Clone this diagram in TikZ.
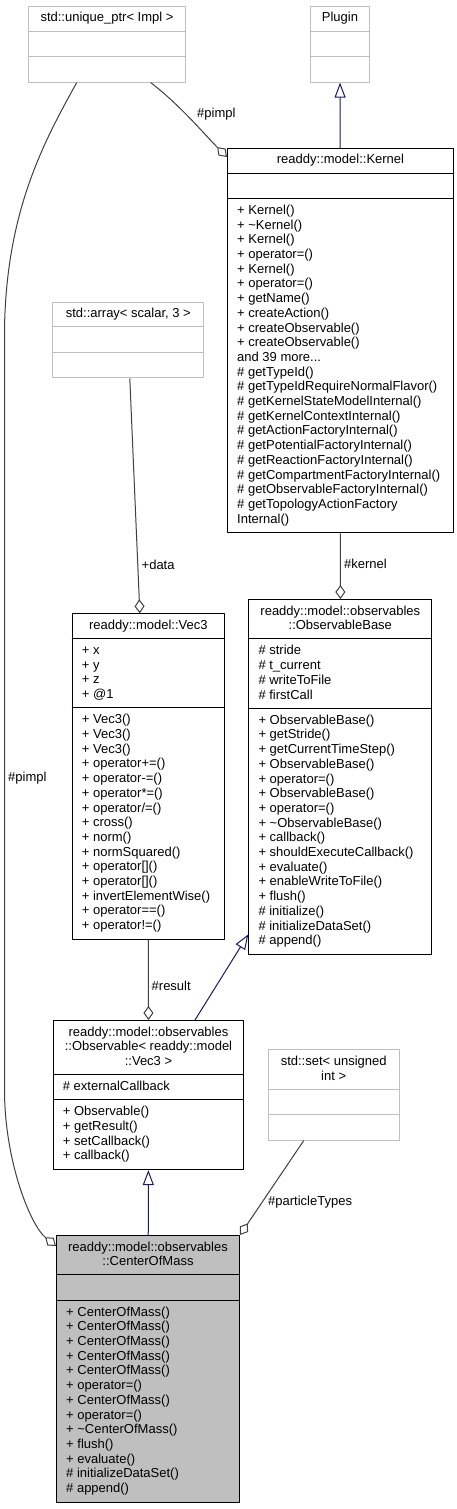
\documentclass[tikz,border=0pt]{standalone}
\usepackage{fontspec}
\setmainfont{Liberation Sans}
\usetikzlibrary{arrows.meta,calc}
\definecolor{boxgray}{RGB}{191,191,191}
\definecolor{edgegray}{RGB}{64,64,64}
\definecolor{inhblue}{RGB}{25,25,112}
\def\kernelmore{and 39 more...}

\begin{document}
\begin{tikzpicture}[x=1pt, y=-1pt, line join=round,
    font=\fontsize{13pt}{14.7pt}\selectfont,
    cls/.style={draw=black, line width=1pt, inner sep=0pt, anchor=north west},
    ext/.style={cls, draw=boxgray},
    mainbox/.style={cls, fill=boxgray},
    sep/.style={line width=1pt},
    ctitle/.style={anchor=base, inner sep=0pt},
    member/.style={anchor=base west, inner sep=0pt},
    lbl/.style={anchor=west, inner sep=0pt},
    assoc/.style={draw=edgegray, line width=1pt, -{Diamond[open,length=14pt,width=10pt]}},
    inherit/.style={draw=inhblue, line width=1pt, -{Triangle[open,length=15pt,width=11pt]}}]
  \path[fill=white] (0,0) rectangle (457,1509);
  \useasboundingbox (0,0) rectangle (457,1509);

  % classes that are not documented here
  \node[ext, minimum width=157pt, minimum height=75.6pt] (uniq) at (28,6) {};
  \node[ctitle] (uniq-t) at ($(uniq.north)+(0,16)$) {std::unique\_ptr< Impl >};
  \draw[sep, boxgray] ([yshift=-25.2pt]uniq.north west) -- ([yshift=-25.2pt]uniq.north east)
    ([yshift=-50.4pt]uniq.north west) -- ([yshift=-50.4pt]uniq.north east);

  \node[ext, minimum width=59pt, minimum height=75.6pt] (plugin) at (310,6) {};
  \node[ctitle] (plugin-t) at ($(plugin.north)+(0,16)$) {Plugin};
  \draw[sep, boxgray] ([yshift=-25.2pt]plugin.north west) -- ([yshift=-25.2pt]plugin.north east)
    ([yshift=-50.4pt]plugin.north west) -- ([yshift=-50.4pt]plugin.north east);

  \node[ext, minimum width=151pt, minimum height=75.6pt] (array) at (52.3,301.7) {};
  \node[ctitle] (array-t) at ($(array.north)+(0,16)$) {std::array< scalar, 3 >};
  \draw[sep, boxgray] ([yshift=-25.2pt]array.north west) -- ([yshift=-25.2pt]array.north east)
    ([yshift=-50.4pt]array.north west) -- ([yshift=-50.4pt]array.north east);

  \node[ext, minimum width=131pt, minimum height=90.3pt] (set) at (267.7,1049.3) {};
  \node[ctitle] (set-t1) at ($(set.north)+(0,16)$) {std::set< unsigned};
  \node[ctitle] (set-t2) at ($(set.north)+(0,30.7)$) {int >};
  \draw[sep, boxgray] ([yshift=-39.9pt]set.north west) -- ([yshift=-39.9pt]set.north east)
    ([yshift=-65.1pt]set.north west) -- ([yshift=-65.1pt]set.north east);

  % readdy::model::Kernel
  \node[cls, minimum width=226pt, minimum height=384.3pt] (kernel) at (227,148) {};
  \node[ctitle] (kernel-t) at ($(kernel.north)+(0,16)$) {readdy::model::Kernel};
  \draw[sep] ([yshift=-25.2pt]kernel.north west) -- ([yshift=-25.2pt]kernel.north east)
    ([yshift=-50.4pt]kernel.north west) -- ([yshift=-50.4pt]kernel.north east);
  \foreach \t [count=\i from 0] in {{+ Kernel()}, {+ \textasciitilde Kernel()}, {+ Kernel()},
      {+ operator=()}, {+ Kernel()}, {+ operator=()}, {+ getName()}, {+ createAction()},
      {+ createObservable()}, {+ createObservable()}, {\kernelmore}, {\# getTypeId()},
      {\# getTypeIdRequireNormalFlavor()}, {\# getKernelStateModelInternal()},
      {\# getKernelContextInternal()}, {\# getActionFactoryInternal()},
      {\# getPotentialFactoryInternal()}, {\# getReactionFactoryInternal()},
      {\# getCompartmentFactoryInternal()}, {\# getObservableFactoryInternal()},
      {\# getTopologyActionFactory}, {Internal()}}
    \node[member] (kernel-m\i) at ($(kernel.north west)+(10,66.4+14.7*\i)$) {\t};

  % readdy::model::Vec3
  \node[cls, minimum width=152.3pt, minimum height=325.5pt] (vec) at (71.7,613.3) {};
  \node[ctitle] (vec-t) at ($(vec.north)+(0,16)$) {readdy::model::Vec3};
  \draw[sep] ([yshift=-25.2pt]vec.north west) -- ([yshift=-25.2pt]vec.north east)
    ([yshift=-94.5pt]vec.north west) -- ([yshift=-94.5pt]vec.north east);
  \foreach \t [count=\i from 0] in {{+ x}, {+ y}, {+ z}, {+ @1}}
    \node[member] (vec-a\i) at ($(vec.north west)+(10,41.2+14.7*\i)$) {\t};
  \foreach \t [count=\i from 0] in {{+ Vec3()}, {+ Vec3()}, {+ Vec3()}, {+ operator+=()},
      {+ operator-=()}, {+ operator*=()}, {+ operator/=()}, {+ cross()}, {+ norm()},
      {+ normSquared()}, {+ operator[]()}, {+ operator[]()}, {+ invertElementWise()},
      {+ operator==()}, {+ operator!=()}}
    \node[member] (vec-m\i) at ($(vec.north west)+(10,110.5+14.7*\i)$) {\t};

  % readdy::model::observables::ObservableBase
  \node[cls, minimum width=183pt, minimum height=354.9pt] (obase) at (248.3,599) {};
  \node[ctitle] (obase-t1) at ($(obase.north)+(0,16)$) {readdy::model::observables};
  \node[ctitle] (obase-t2) at ($(obase.north)+(0,30.7)$) {::ObservableBase};
  \draw[sep] ([yshift=-39.9pt]obase.north west) -- ([yshift=-39.9pt]obase.north east)
    ([yshift=-109.2pt]obase.north west) -- ([yshift=-109.2pt]obase.north east);
  \foreach \t [count=\i from 0] in {{\# stride}, {\# t\_current}, {\# writeToFile}, {\# firstCall}}
    \node[member] (obase-a\i) at ($(obase.north west)+(10,55.9+14.7*\i)$) {\t};
  \foreach \t [count=\i from 0] in {{+ ObservableBase()}, {+ getStride()},
      {+ getCurrentTimeStep()}, {+ ObservableBase()}, {+ operator=()}, {+ ObservableBase()},
      {+ operator=()}, {+ \textasciitilde ObservableBase()}, {+ callback()},
      {+ shouldExecuteCallback()}, {+ evaluate()}, {+ enableWriteToFile()}, {+ flush()},
      {\# initialize()}, {\# initializeDataSet()}, {\# append()}}
    \node[member] (obase-m\i) at ($(obase.north west)+(10,125.2+14.7*\i)$) {\t};

  % readdy::model::observables::Observable< Vec3 >
  \node[cls, minimum width=190.6pt, minimum height=149.1pt] (obs) at (52.7,1020) {};
  \node[ctitle] (obs-t1) at ($(obs.north)+(0,16)$) {readdy::model::observables};
  \node[ctitle] (obs-t2) at ($(obs.north)+(0,30.7)$) {::Observable< readdy::model};
  \node[ctitle] (obs-t3) at ($(obs.north)+(0,45.4)$) {::Vec3 >};
  \draw[sep] ([yshift=-54.6pt]obs.north west) -- ([yshift=-54.6pt]obs.north east)
    ([yshift=-79.8pt]obs.north west) -- ([yshift=-79.8pt]obs.north east);
  \node[member] (obs-a0) at ($(obs.north west)+(10,70.6)$) {\# externalCallback};
  \foreach \t [count=\i from 0] in {{+ Observable()}, {+ getResult()}, {+ setCallback()}, {+ callback()}}
    \node[member] (obs-m\i) at ($(obs.north west)+(10,95.8+14.7*\i)$) {\t};

  % readdy::model::observables::CenterOfMass
  \node[mainbox, minimum width=183pt, minimum height=266.7pt] (com) at (56,1235) {};
  \node[ctitle] (com-t1) at ($(com.north)+(0,16)$) {readdy::model::observables};
  \node[ctitle] (com-t2) at ($(com.north)+(0,30.7)$) {::CenterOfMass};
  \draw[sep] ([yshift=-39.9pt]com.north west) -- ([yshift=-39.9pt]com.north east)
    ([yshift=-65.1pt]com.north west) -- ([yshift=-65.1pt]com.north east);
  \foreach \t [count=\i from 0] in {{+ CenterOfMass()}, {+ CenterOfMass()}, {+ CenterOfMass()},
      {+ CenterOfMass()}, {+ CenterOfMass()}, {+ operator=()}, {+ CenterOfMass()},
      {+ operator=()}, {+ \textasciitilde CenterOfMass()}, {+ flush()}, {+ evaluate()},
      {\# initializeDataSet()}, {\# append()}}
    \node[member] (com-m\i) at ($(com.north west)+(10,81.1+14.7*\i)$) {\t};

  % connectors
  \draw[inherit] (kernel) -- (plugin);
  \draw[assoc] ([xshift=122.7pt]uniq.south west) .. controls (180,105) and (205,135) .. ([yshift=-9pt]kernel.north west);
  \draw[assoc] ([xshift=48.7pt]uniq.south west) .. controls (45,140) and (6,210) .. (4.5,330)
    -- (4.5,1090) .. controls (4.5,1160) and (30,1225) .. ([yshift=-11pt]com.north west);
  \draw[assoc] ([xshift=1.5pt]array.south) -- ([xshift=-8.5pt]vec.north);
  \draw[assoc] (kernel) -- (obase);
  \draw[assoc] (vec) -- (obs);
  \draw[inherit] ([xshift=142.3pt]obs.north west) -- ([yshift=20.5pt]obase.south west);
  \draw[inherit] (com) -- (obs);
  \draw[assoc] ([xshift=-30pt]set.south) -- (com.north east);

  \node[lbl] (l-pimpl1) at (197,114) {\#pimpl};
  \node[lbl] (l-pimpl2) at (8,778) {\#pimpl};
  \node[lbl] (l-data) at (141.5,565) {+data};
  \node[lbl] (l-kernel) at (344,564) {\#kernel};
  \node[lbl] (l-result) at (151.5,986) {\#result};
  \node[lbl] (l-ptypes) at (268,1202) {\#particleTypes};
\end{tikzpicture}
\end{document}
